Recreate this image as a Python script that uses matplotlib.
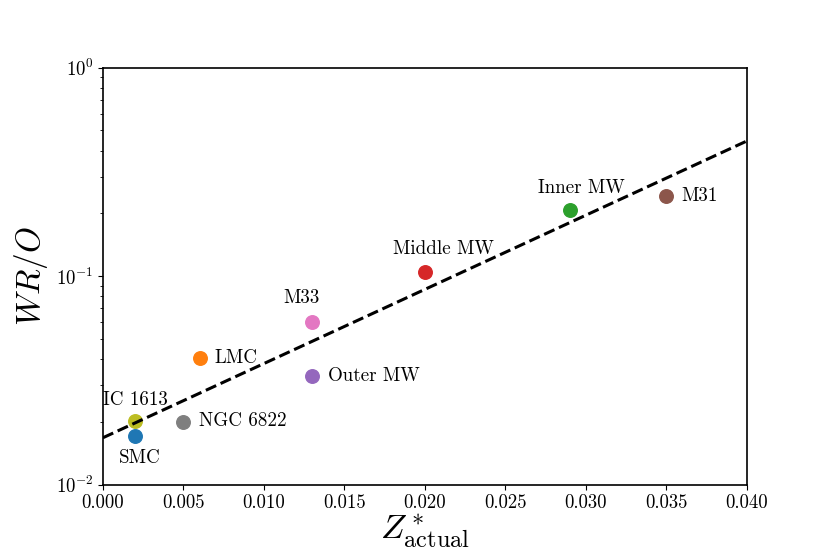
import matplotlib
matplotlib.use('Agg')
import matplotlib.pyplot as plt
import numpy as np

plt.rcParams['mathtext.fontset'] = 'cm'
plt.rcParams['font.family'] = ['cmr10', 'DejaVu Serif']
plt.rcParams['axes.formatter.use_mathtext'] = True

names = ["SMC", "LMC", "Inner MW", "Middle MW", "Outer MW", "M31", "M33", "NGC 6822", "IC 1613"]
z_actual = [0.002, 0.006, 0.029, 0.020, 0.013, 0.035, 0.013, 0.005, 0.002]
wr_o = [0.0172, 0.0405, 0.207, 0.105, 0.0333, 0.243, 0.0605, 0.0201, 0.0202]
# label offsets in points
offsets = [(-12, -16), (11, 0), (-23, 16), (-23, 16), (11, 0), (11, 0), (-21, 17), (11, 0), (-23, 15)]

fit_x = [0.0, 0.04]
fit_y = [0.0168, 0.445]

fig = plt.figure(figsize=(8.3, 5.54), dpi=100)
ax = fig.add_axes([0.124, 0.125, 0.776, 0.753])

ax.plot(fit_x, fit_y, 'k--', lw=2.2, zorder=3)
for i, name in enumerate(names):
    ax.scatter(z_actual[i], wr_o[i], s=95, color="C%d" % i, zorder=2)
    dx, dy = offsets[i]
    ax.annotate(name, (z_actual[i], wr_o[i]), xytext=(dx, dy), textcoords='offset points',
                fontsize=13.7, va='center', ha='left')

ax.set_yscale('log')
ax.set_xlim(0, 0.04)
ax.set_ylim(1e-2, 1e0)
ax.set_xticks(np.arange(0, 0.0401, 0.005))
ax.set_xticklabels(["%.3f" % v for v in np.arange(0, 0.0401, 0.005)])
ax.tick_params(labelsize=13.5)
for s in ax.spines.values():
    s.set_linewidth(1.2)

ax.set_xlabel(r"$Z^*_{\rm actual}$", fontsize=25, labelpad=0)
ax.set_ylabel(r"$WR/O$", fontsize=24)

plt.savefig("out.png", dpi=100)
